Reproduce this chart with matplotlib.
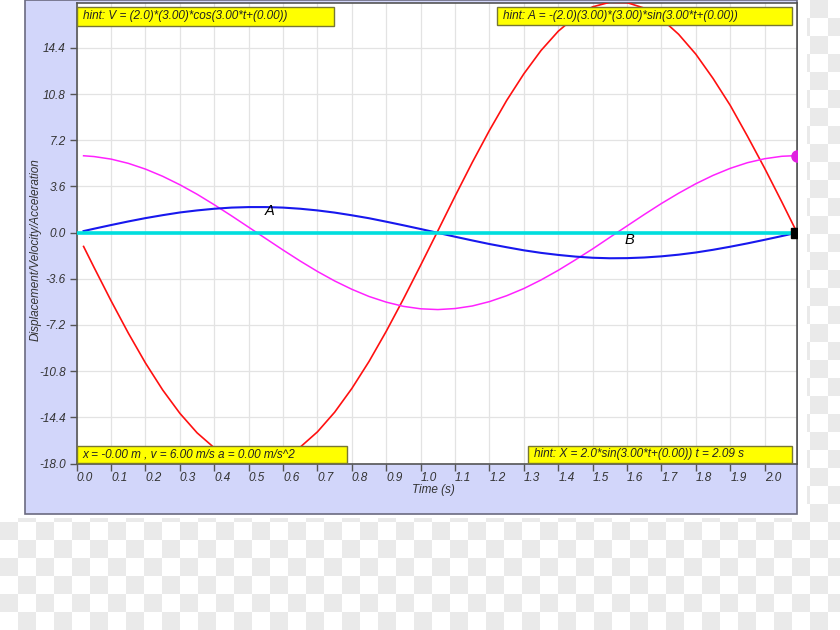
import matplotlib
matplotlib.use("Agg")
import matplotlib.pyplot as plt
from matplotlib.patches import Rectangle
import numpy as np

t = [0.02, 0.05, 0.10, 0.15, 0.20, 0.25, 0.30, 0.35, 0.40, 0.45, 0.50, 0.55, 0.60, 0.65,
     0.70, 0.75, 0.80, 0.85, 0.90, 0.95, 1.00, 1.05, 1.10, 1.15, 1.20, 1.25, 1.30, 1.35,
     1.40, 1.45, 1.50, 1.55, 1.60, 1.65, 1.70, 1.75, 1.80, 1.85, 1.90, 1.95, 2.00, 2.05, 2.09]
displacement = [0.12, 0.30, 0.59, 0.87, 1.13, 1.36, 1.57, 1.73, 1.86, 1.95, 1.99, 1.99, 1.95, 1.86,
                1.73, 1.56, 1.35, 1.12, 0.85, 0.57, 0.28, -0.02, -0.32, -0.61, -0.89, -1.14, -1.38, -1.58,
                -1.74, -1.87, -1.96, -2.00, -1.99, -1.94, -1.85, -1.72, -1.55, -1.34, -1.10, -0.84, -0.56, -0.27, -0.03]
velocity = [5.99, 5.93, 5.73, 5.40, 4.95, 4.39, 3.73, 2.99, 2.17, 1.31, 0.42, -0.47, -1.36, -2.22,
            -3.03, -3.77, -4.42, -4.98, -5.42, -5.75, -5.94, -6.00, -5.92, -5.72, -5.38, -4.92, -4.36, -3.69,
            -2.94, -2.12, -1.27, -0.37, 0.52, 1.41, 2.27, 3.07, 3.81, 4.46, 5.01, 5.45, 5.76, 5.95, 6.00]
acceleration = [-1.08, -2.69, -5.32, -7.83, -10.17, -12.27, -14.09, -15.61, -16.78, -17.57, -17.95, -17.95, -17.53, -16.72,
                -15.53, -14.00, -12.15, -10.04, -7.69, -5.17, -2.54, 0.14, 2.84, 5.47, 7.97, 10.30, 12.38, 14.20,
                15.70, 16.83, 17.60, 17.96, 17.93, 17.50, 16.67, 15.46, 13.91, 12.02, 9.92, 7.52, 5.02, 2.39, 0.23]

x_ticks = [0.0, 0.1, 0.2, 0.3, 0.4, 0.5, 0.6, 0.7, 0.8, 0.9, 1.0, 1.1, 1.2, 1.3, 1.4, 1.5,
           1.6, 1.7, 1.8, 1.9, 2.0]
y_ticks = [-18.0, -14.4, -10.8, -7.2, -3.6, 0.0, 3.6, 7.2, 10.8, 14.4]

hint_v = "hint: V = (2.0)*(3.00)*cos(3.00*t+(0.00))"
hint_a = "hint: A = -(2.0)(3.00)*(3.00)*sin(3.00*t+(0.00))"
state_text = "x = -0.00 m , v = 6.00 m/s a = 0.00 m/s^2"
hint_x = "hint: X = 2.0*sin(3.00*t+(0.00)) t = 2.09 s"

plt.rcParams['font.family'] = ['Liberation Sans', 'DejaVu Sans']

W, H = 840, 630
fig = plt.figure(figsize=(8.4, 6.3), dpi=100)

# background: transparency checkerboard + lavender panel
bg = fig.add_axes([0, 0, 1, 1])
yy, xx = np.mgrid[0:H, 0:W]
odd = ((xx // 18 + yy // 18) % 2) == 1
mask = (xx >= 807) | (yy >= 518)
img = np.full((H, W), 255, dtype=np.uint8)
img[odd & mask] = 234
bg.imshow(np.dstack([img] * 3), extent=[0, 1, 0, 1], aspect="auto", interpolation="nearest")
bg.set_xlim(0, 1)
bg.set_ylim(0, 1)
bg.axis("off")
bg.add_patch(Rectangle((25 / W, 1 - 514 / H), 772 / W, 514 / H, facecolor="#d2d6fa",
                       edgecolor="#6b6b80", lw=1.2))


def px(x, y):
    return x / W, 1 - y / H


# main plot area
ax = fig.add_axes([76.7 / W, 1 - 463.5 / H, 720.6 / W, 460.5 / H])
ax.set_facecolor("white")
ax.set_xlim(0, 2.095)
ax.set_ylim(-18.0, 17.9)

ax.set_xticks(x_ticks, [f"{v:.1f}" for v in x_ticks])
ax.set_yticks(y_ticks, [f"{v:.1f}" for v in y_ticks])
for lbl in ax.get_xticklabels():
    lbl.set_ha("left")
    lbl.set_style("italic")
for lbl in ax.get_yticklabels():
    lbl.set_style("italic")
ax.tick_params(direction="out", length=5, width=1, color="#555555", labelcolor="#333333",
               labelsize=8.5, pad=3)
ax.tick_params(axis="x", pad=1)
ax.grid(True, color="#e3e3e3", lw=0.9)
ax.set_axisbelow(True)
for s in ax.spines.values():
    s.set_color("#555555")
    s.set_linewidth(1.2)

ax.plot(t, acceleration, color="#ff1010", lw=1.2, zorder=3)
ax.plot(t, velocity, color="#ff22ff", lw=1.1, zorder=3)
ax.plot(t, displacement, color="#1818ee", lw=1.5, zorder=3)
ax.plot([0.0, 2.095], [0, 0], color="#00dede", lw=2.6, zorder=4)
ax.plot([2.09], [0.0], marker="s", color="black", ms=7, zorder=6)
ax.plot([2.095], [6.0], marker="o", color="#e020e0", ms=8, zorder=6)

ax.text(0.562, 1.7, "A", fontsize=10.5, style="italic", ha="center", va="center", zorder=5)
ax.text(1.608, -0.6, "B", fontsize=10.5, style="italic", ha="center", va="center", zorder=5)

# hint boxes
boxes = [
    (76.7, 7.5, 334, 25.5, hint_v),
    (497, 7.5, 792, 24.5, hint_a),
    (76.7, 445.5, 347, 463, state_text),
    (528, 445.5, 792, 463, hint_x),
]
for x0, y0, x1, y1, txt in boxes:
    fx0, fy1 = px(x0, y1)
    ax.add_patch(Rectangle((fx0, fy1), (x1 - x0) / W, (y1 - y0) / H, transform=fig.transFigure,
                           facecolor="#ffff00", edgecolor="#777733", lw=1.0, clip_on=False, zorder=8))
    tx, ty = px(x0 + 6, (y0 + y1) / 2)
    ax.text(tx, ty, txt, transform=fig.transFigure, fontsize=8.5, style="italic", color="#222222",
            ha="left", va="center", zorder=9)

fx, fy = px(433, 490)
fig.text(fx, fy, "Time (s)", fontsize=8.5, style="italic", color="#333333", ha="center", va="center")
fx, fy = px(36, 250)
fig.text(fx, fy, "Displacement/Velocity/Acceleration", fontsize=8.5, style="italic", color="#333333",
         rotation=90, ha="center", va="center")

fig.savefig("out.png", dpi=100)
